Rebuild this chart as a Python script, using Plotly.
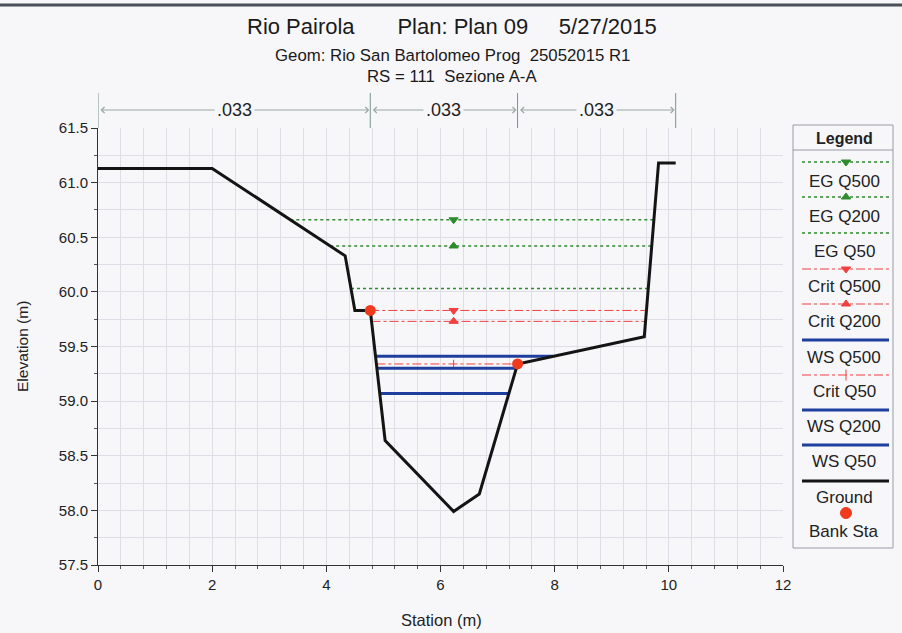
import numpy as np
import plotly.graph_objects as go

# ---------------- data ----------------
station = [0.00, 2.00, 4.33, 4.50, 4.77, 5.03, 6.23, 6.68, 7.35, 9.57, 9.82, 10.12]
elevation = [61.13, 61.13, 60.33, 59.83, 59.83, 58.64, 57.99, 58.15, 59.34, 59.59, 61.18, 61.18]
bank_sta = [4.77, 7.35]
n_breaks = [0.00, 4.77, 7.35, 10.12]
n_values = [".033", ".033", ".033"]

eg_names = ["EG Q500", "EG Q200", "EG Q50"]
eg_levels = [60.66, 60.42, 60.03]
crit_names = ["Crit Q500", "Crit Q200", "Crit Q50"]
crit_levels = [59.83, 59.73, 59.34]
ws_names = ["WS Q500", "WS Q200", "WS Q50"]
ws_levels = [59.41, 59.30, 59.07]

x_ticks = [0, 2, 4, 6, 8, 10, 12]
y_ticks = [57.5, 58.0, 58.5, 59.0, 59.5, 60.0, 60.5, 61.0, 61.5]

title_line1 = "Rio Pairola       Plan: Plan 09     5/27/2015"
title_line2 = "Geom: Rio San Bartolomeo Prog  25052015 R1"
title_line3 = "RS = 111  Sezione A-A"

# ---------------- styles ----------------
FONT = "Liberation Sans, Arial, sans-serif"
BG = "#f7f7fa"
GRID = "#dedee6"
EG_COLOR = "#2e8b2e"
CRIT_COLOR = "#f04040"
WS_COLOR = "#1f3f9f"
GROUND_COLOR = "#141414"
BANK_COLOR = "#f03a1e"
SYM = {"Q500": "triangle-down", "Q200": "triangle-up", "Q50": None}

W, H = 902, 633
ML, MR, MT, MB = 98, 7, 120, 68
PW, PH = W - ML - MR, H - MT - MB


def px(xp):
    return (xp - ML) / PW


def py(yp):
    return (H - MB - yp) / PH


st = np.array(station)
el = np.array(elevation)
i_min = int(np.argmin(el))
thalweg = st[i_min]


def extent(level):
    j = i_min
    while j > 0 and el[j - 1] < level:
        j -= 1
    xl = np.interp(level, [el[j], el[j - 1]], [st[j], st[j - 1]]) if j > 0 else st[0]
    k = i_min
    while k < len(st) - 1 and el[k + 1] < level:
        k += 1
    xr = np.interp(level, [el[k], el[k + 1]], [st[k], st[k + 1]]) if k < len(st) - 1 else st[-1]
    return xl, xr


fig = go.Figure()


def add_profile(name, level, color, width, dash, symbol, msize):
    xl, xr = extent(level)
    fig.add_trace(go.Scatter(x=[xl, xr], y=[level, level], mode="lines", name=name,
                             line=dict(color=color, width=width, dash=dash),
                             showlegend=False, hoverinfo="name+y"))
    if symbol:
        fig.add_trace(go.Scatter(x=[thalweg], y=[level], mode="markers", name=name,
                                 marker=dict(symbol=symbol, size=msize, color=color,
                                             line=dict(color=color, width=1)),
                                 showlegend=False, hoverinfo="skip"))


for n, lv in zip(eg_names, eg_levels):
    add_profile(n, lv, EG_COLOR, 1.5, "dot", SYM[n.split()[-1]], 8)
for n, lv in zip(crit_names, crit_levels):
    s = SYM[n.split()[-1]] or "line-ns-open"
    add_profile(n, lv, CRIT_COLOR, 1, "dashdot", s, 8 if s != "line-ns-open" else 6)
for n, lv in zip(ws_names, ws_levels):
    add_profile(n, lv, WS_COLOR, 3, "solid", None, 0)

fig.add_trace(go.Scatter(x=station, y=elevation, mode="lines", name="Ground",
                         line=dict(color=GROUND_COLOR, width=3), showlegend=False))
bank_elev = np.interp(bank_sta, station, elevation)
fig.add_trace(go.Scatter(x=bank_sta, y=bank_elev, mode="markers", name="Bank Sta",
                         marker=dict(size=11, color=BANK_COLOR), showlegend=False))

# ---------------- manual legend (axes x2/y2 in pixel units) ----------------
LX0, LX1, LY0, LY1 = 793, 893, 125, 548
legend_items = [
    ("EG Q500", "eg", "triangle-down", 162, 181),
    ("EG Q200", "eg", "triangle-up", 197, 216),
    ("EG Q50", "eg", None, 233, 251),
    ("Crit Q500", "crit", "triangle-down", 269, 286),
    ("Crit Q200", "crit", "triangle-up", 304, 321),
    ("WS Q500", "ws", None, 340, 357),
    ("Crit Q50", "crit", "line-ns-open", 375, 391),
    ("WS Q200", "ws", None, 410, 426),
    ("WS Q50", "ws", None, 445, 461),
    ("Ground", "ground", None, 481, 497),
    ("Bank Sta", "bank", "circle", 513, 531),
]
style = {
    "eg": (EG_COLOR, 1.5, "dot"),
    "crit": (CRIT_COLOR, 1, "dashdot"),
    "ws": (WS_COLOR, 3, "solid"),
    "ground": (GROUND_COLOR, 3, "solid"),
}
for label, kind, sym, yl, yt in legend_items:
    if kind in style:
        c, w, d = style[kind]
        fig.add_trace(go.Scatter(x=[802, 889], y=[yl, yl], mode="lines", xaxis="x2", yaxis="y2",
                                 line=dict(color=c, width=w, dash=d), showlegend=False, hoverinfo="skip"))
        mc = c
    else:
        mc = BANK_COLOR
    if sym:
        fig.add_trace(go.Scatter(x=[846], y=[yl], mode="markers", xaxis="x2", yaxis="y2",
                                 marker=dict(symbol=sym, size=11 if sym == "circle" else 8, color=mc,
                                             line=dict(color=mc, width=1)),
                                 showlegend=False, hoverinfo="skip"))
    fig.add_annotation(x=844, y=yt, xref="x2", yref="y2", text=label, showarrow=False,
                       xanchor="center", yanchor="middle",
                       font=dict(family=FONT, size=17, color="#222"))
fig.add_annotation(x=844, y=138, xref="x2", yref="y2", text="<b>Legend</b>", showarrow=False,
                   xanchor="center", yanchor="middle",
                   font=dict(family=FONT, size=16, color="#222"))

shapes = [
    dict(type="rect", xref="paper", yref="paper", x0=px(LX0), x1=px(LX1), y0=py(LY1), y1=py(LY0),
         line=dict(color="#9a9aa6", width=1), fillcolor="rgba(0,0,0,0)"),
    dict(type="line", xref="paper", yref="paper", x0=px(LX0), x1=px(LX1), y0=py(150), y1=py(150),
         line=dict(color="#9a9aa6", width=1)),
    dict(type="line", xref="paper", yref="paper", x0=px(0), x1=px(W), y0=py(5), y1=py(5),
         line=dict(color="#4a4f5a", width=3)),
]

# Manning's n bar above the plot
for b in n_breaks:
    shapes.append(dict(type="line", xref="x", yref="paper", x0=b, x1=b, y0=py(128), y1=py(93),
                       line=dict(color="#7a948c", width=1)))
for i, nv in enumerate(n_values):
    a, b = n_breaks[i], n_breaks[i + 1]
    fig.add_annotation(x=b, y=py(110), xref="x", yref="paper", ax=a, ay=0, axref="x", ayref="pixel",
                       text="", showarrow=True, arrowhead=4, startarrowhead=4, arrowside="end+start",
                       arrowsize=1.2, arrowwidth=1, arrowcolor="#98a8a0", standoff=1, startstandoff=1)
    fig.add_annotation(x=(a + b) / 2, y=py(110), xref="x", yref="paper", text=nv, showarrow=False,
                       xanchor="center", yanchor="middle",
                       bgcolor=BG, borderpad=2, font=dict(family=FONT, size=18, color="#222"))

# titles
for txt, yp, sz in [(title_line1, 27, 22), (title_line2, 55, 16.8), (title_line3, 76, 16.8)]:
    fig.add_annotation(x=px(452), y=py(yp), xref="paper", yref="paper", text=txt, showarrow=False,
                       xanchor="center", yanchor="middle", font=dict(family=FONT, size=sz, color="#1a1a1a"))

fig.add_annotation(x=px(22), y=py(347), xref="paper", yref="paper", text="Elevation (m)", textangle=-90,
                   xanchor="center", yanchor="middle",
                   showarrow=False, font=dict(family=FONT, size=15.5, color="#222"))
fig.add_annotation(x=px(441), y=py(620), xref="paper", yref="paper", text="Station (m)",
                   xanchor="center", yanchor="middle",
                   showarrow=False, font=dict(family=FONT, size=16.5, color="#222"))

fig.update_layout(
    width=W, height=H,
    margin=dict(l=ML, r=MR, t=MT, b=MB, autoexpand=False),
    paper_bgcolor=BG, plot_bgcolor=BG,
    showlegend=False,
    font=dict(family=FONT, size=14, color="#222"),
    shapes=shapes,
    xaxis=dict(domain=[0, px(783)], range=[0, 12], tickvals=x_ticks, showgrid=True, gridcolor=GRID,
               zeroline=False, showline=True, linecolor="#333", linewidth=1, ticks="outside",
               ticklen=6, tickcolor="#333", tickfont=dict(size=15),
               minor=dict(dtick=0.4, showgrid=True, gridcolor=GRID, ticks="outside", ticklen=3,
                          tickcolor="#555")),
    yaxis=dict(domain=[0, py(128)], range=[57.5, 61.5], tickvals=y_ticks, tickformat=".1f",
               showgrid=True, gridcolor=GRID, zeroline=False, showline=True, linecolor="#333",
               linewidth=1, ticks="outside", ticklen=6, tickcolor="#333", tickfont=dict(size=15),
               minor=dict(dtick=0.25, showgrid=True, gridcolor=GRID, ticks="outside", ticklen=3,
                          tickcolor="#555")),
    xaxis2=dict(domain=[px(LX0), px(LX1)], range=[LX0, LX1], visible=False, anchor="y2", fixedrange=True),
    yaxis2=dict(domain=[py(LY1), py(LY0)], range=[LY1, LY0], visible=False, anchor="x2", fixedrange=True),
)

fig.write_html("out.html", config={"displayModeBar": False},
               post_script="document.body.style.margin='0px';document.body.style.overflow='hidden';")
